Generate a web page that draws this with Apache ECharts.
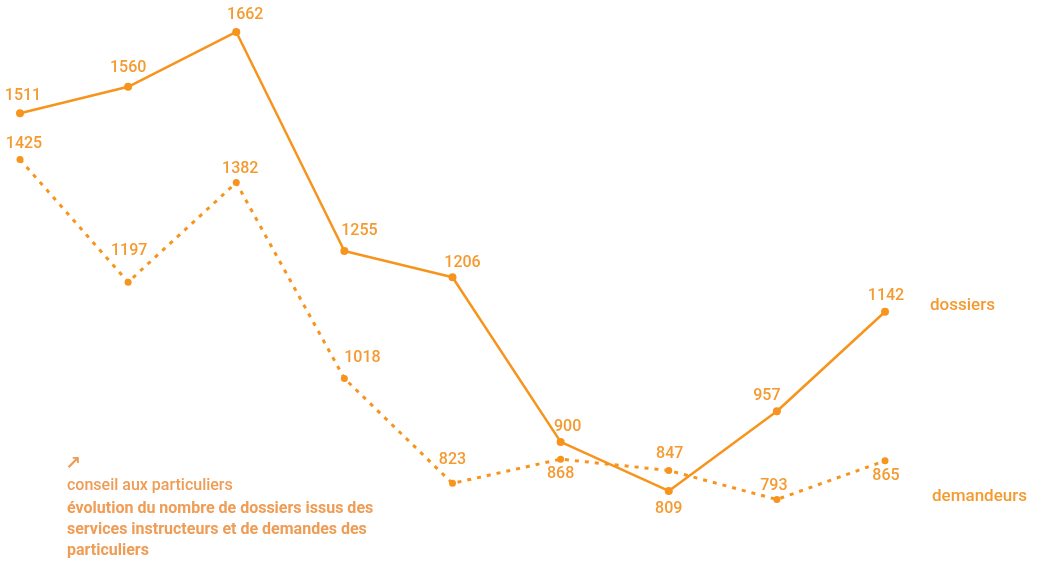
<!DOCTYPE html>
<html>
<head>
<meta charset="utf-8">
<script src="https://cdn.jsdelivr.net/npm/echarts@6/dist/echarts.min.js"></script>
<style>
  html, body { margin: 0; padding: 0; background: #ffffff; }
  #chart { width: 1038px; height: 563px; }
</style>
</head>
<body>
<div id="chart"></div>
<script>
const categories = ["1", "2", "3", "4", "5", "6", "7", "8", "9"];
const dossiers = [1511, 1560, 1662, 1255, 1206, 900, 809, 957, 1142];
const demandeurs = [1425, 1197, 1382, 1018, 823, 868, 847, 793, 865];

// label offsets from each point, in px
const dossiersLabelOffset = [[3, -17], [0, -19], [9, -17], [15, -20], [10, -14], [7, -15], [0, 18], [-10, -15], [1, -16]];
const demandeursLabelOffset = [[4, -15], [1, -31], [4, -14], [18, -20], [0, -23], [0, 15], [1, -16], [-3, -14], [1, 15]];

const ORANGE = "#f7941d";
const LABEL = "#f59a30";
const NOTE = "#ef9c55";
const FONT = "Roboto, 'DejaVu Sans', sans-serif";

const chart = echarts.init(document.getElementById("chart"));

function pointData(values, offsets, size) {
  const c = size / 2;
  return values.map((v, i) => ({
    value: v,
    label: {
      show: true,
      position: [c + offsets[i][0], c + offsets[i][1]],
      align: "center",
      verticalAlign: "middle",
    },
  }));
}

function lineSeries(name, values, offsets, lineType, width, size) {
  return {
    name: name,
    type: "line",
    data: pointData(values, offsets, size),
    symbol: "circle",
    symbolSize: size,
    showAllSymbol: true,
    lineStyle: { color: ORANGE, width: width, type: lineType },
    itemStyle: { color: ORANGE },
    labelLayout: { hideOverlap: false },
    label: {
      show: true,
      color: LABEL,
      fontFamily: FONT,
      fontSize: 16,
      fontWeight: 500,
    },
  };
}

chart.setOption({
  backgroundColor: "#ffffff",
  animation: false,
  grid: { left: 20, right: 153, top: 11.5, bottom: 56.5 },
  xAxis: {
    type: "category",
    data: categories,
    boundaryGap: false,
    show: false,
  },
  yAxis: {
    type: "value",
    min: 780,
    max: 1700,
    show: false,
  },
  series: [
    lineSeries("dossiers", dossiers, dossiersLabelOffset, "solid", 2.5, 8),
    lineSeries("demandeurs", demandeurs, demandeursLabelOffset, [4, 6], 3, 7),
  ],
  graphic: [
    {
      type: "text",
      left: 930,
      top: 297,
      style: { text: "dossiers", fill: LABEL, font: "500 17px " + FONT },
    },
    {
      type: "text",
      left: 932,
      top: 488,
      style: { text: "demandeurs", fill: LABEL, font: "500 17px " + FONT },
    },
    {
      type: "text",
      left: 65,
      top: 455,
      style: { text: "\u2197", fill: NOTE, font: "bold 19px 'DejaVu Sans', sans-serif" },
    },
    {
      type: "text",
      left: 67,
      top: 478,
      style: {
        text: "conseil aux particuliers",
        fill: NOTE,
        font: "500 16px " + FONT,
      },
    },
    {
      type: "text",
      left: 67,
      top: 498,
      style: {
        text: "évolution du nombre de dossiers issus des\nservices instructeurs et de demandes des\nparticuliers",
        fill: NOTE,
        font: "bold 16px " + FONT,
        lineHeight: 21,
      },
    },
  ],
});
</script>
</body>
</html>
